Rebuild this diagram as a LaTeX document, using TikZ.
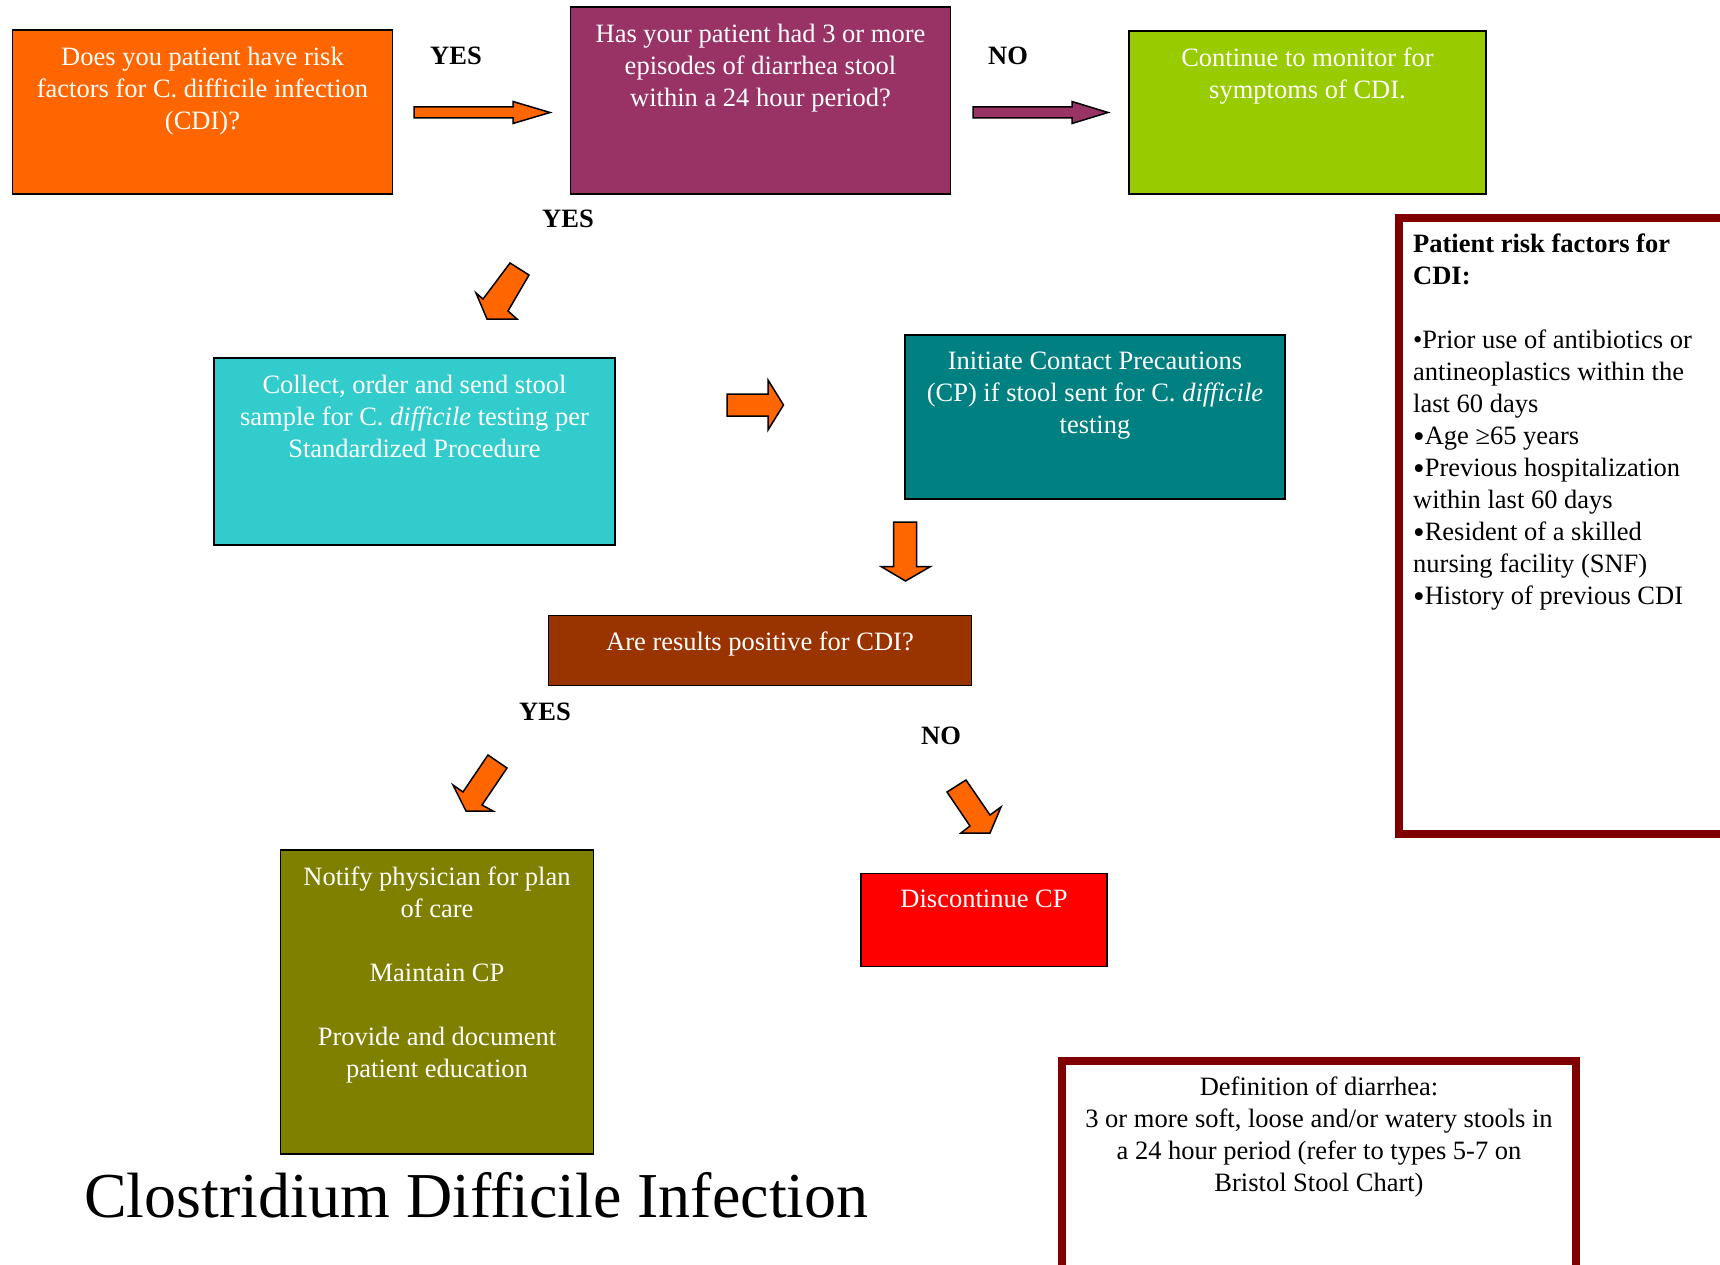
\documentclass[tikz,border=0pt]{standalone}
\usepackage{fontspec}
\setmainfont{Liberation Serif}
\usepackage{xcolor}
\definecolor{cdiorange}{HTML}{FF6600}
\definecolor{cdipurple}{HTML}{993366}
\definecolor{cdigreen}{HTML}{99CC00}
\definecolor{cdicyan}{HTML}{33CCCC}
\definecolor{cditeal}{HTML}{008080}
\definecolor{cdibrown}{HTML}{993300}
\definecolor{cdiolive}{HTML}{808000}
\definecolor{cdired}{HTML}{FF0000}
\definecolor{framered}{HTML}{800000}
\usepackage{tikz}
\usetikzlibrary{positioning}
\newcommand{\fatbullet}{\raisebox{-3pt}{\fontsize{33}{32}\selectfont •}}

\begin{document}
\begin{tikzpicture}[x=1pt, y=-1pt,
			box/.style={draw=black, line width=1.5pt, outer sep=0pt, inner sep=0pt},
			frame/.style={draw=framered, line width=8pt, outer sep=0pt, inner sep=0pt},
			txt/.style={inner sep=0pt, align=center, text=white, font=\fontsize{26.5}{32}\selectfont},
			answer/.style={inner sep=0pt, font=\fontsize{26.5}{32}\selectfont\bfseries},
			barrow/.style={draw=black, line width=1.5pt, line join=miter},
			]
			\useasboundingbox (0,0) rectangle (1720,1265);
			\clip (0,0) rectangle (1720,1265);
			\fill[white] (0,0) rectangle (1720,1265);
			
			\node[box, fill=cdiorange, minimum width=380pt, minimum height=164pt] (riskq) at (202.5,112) {};
			\node[box, fill=cdipurple, minimum width=380pt, minimum height=187pt] (stoolq) at (760.5,100.5) {};
			\node[box, fill=cdigreen, minimum width=357pt, minimum height=163pt] (monitor) at (1307.5,112.5) {};
			\node[box, fill=cdicyan, minimum width=401pt, minimum height=187pt] (collect) at (414.5,451.5) {};
			\node[box, fill=cditeal, minimum width=380pt, minimum height=164pt] (contact) at (1095,417) {};
			\node[box, fill=cdibrown, minimum width=423pt, minimum height=70pt] (result) at (760,650.5) {};
			\node[box, fill=cdiolive, minimum width=313pt, minimum height=304pt] (notify) at (437,1002) {};
			\node[box, fill=cdired, minimum width=246pt, minimum height=93pt] (stopcp) at (984,920) {};
			\node[frame, minimum width=341pt, minimum height=615.5pt] (factors) at (1569,525.75) {};
			\node[frame, minimum width=514pt, minimum height=229pt] (define) at (1319,1175.6) {};
			
			\node[txt, below=16.5pt of riskq.north] (riskq-t) {Does you patient have risk\\factors for C. difficile infection\\(CDI)?};
			\node[txt, below=16.5pt of stoolq.north] (stoolq-t) {Has your patient had 3 or more\\episodes of diarrhea stool\\within a 24 hour period?};
			\node[txt, below=16.5pt of monitor.north] (monitor-t) {Continue to monitor for\\symptoms of CDI.};
			\node[txt, below=16.5pt of collect.north] (collect-t) {Collect, order and send stool\\sample for C. \textit{difficile} testing per\\Standardized Procedure};
			\node[txt, below=16.5pt of contact.north] (contact-t) {Initiate Contact Precautions\\(CP) if stool sent for C. \textit{difficile}\\testing};
			\node[txt, below=16.5pt of result.north] (result-t) {Are results positive for CDI?};
			\node[txt, below=16.5pt of notify.north] (notify-t) {Notify physician for plan\\of care\\[32pt]Maintain CP\\[32pt]Provide and document\\patient education};
			\node[txt, below=16.5pt of stopcp.north] (stopcp-t) {Discontinue CP};
			\node[txt, text=black, align=left, below right=16pt and 14.5pt of factors.north west] (factors-t) {\textbf{Patient risk factors for}\\\textbf{CDI:}\\[32pt]•Prior use of antibiotics or\\antineoplastics within the\\last 60 days\\\fatbullet Age ≥65 years\\\fatbullet Previous hospitalization\\within last 60 days\\\fatbullet Resident of a skilled\\nursing facility (SNF)\\\fatbullet History of previous CDI};
			\node[txt, text=black, below=16pt of define.north] (define-t) {Definition of diarrhea:\\3 or more soft, loose and/or watery stools in\\a 24 hour period (refer to types 5-7 on\\Bristol Stool Chart)};
			
			\node[answer] (yes-a) at (456,56) {YES};
			\node[answer] (no-a) at (1008,56) {NO};
			\node[answer] (yes-b) at (568,219) {YES};
			\node[answer] (yes-c) at (545,712) {YES};
			\node[answer] (no-c) at (941,736) {NO};
			
			\draw[barrow, fill=cdiorange] (414,107) -- (513,107) -- (513,101.5) -- (550,112.5) -- (513,123.5) -- (513,118) -- (414,118) -- cycle;
			\draw[barrow, fill=cdipurple] (973,107) -- (1072,107) -- (1072,101.5) -- (1108,112.5) -- (1072,123.5) -- (1072,118) -- (973,118) -- cycle;
			\draw[barrow, fill=cdiorange] (510,263) -- (529,275) -- (508,311) -- (517,319) -- (487,319) -- (476,293) -- (483,299) -- cycle;
			\draw[barrow, fill=cdiorange] (727,394) -- (768,394) -- (768,380) -- (783.5,405) -- (768,430) -- (768,416) -- (727,416) -- cycle;
			\draw[barrow, fill=cdiorange] (893.5,522) -- (916.5,522) -- (916.5,566.5) -- (930.5,566.5) -- (905.5,581) -- (881,566.5) -- (893.5,566.5) -- cycle;
			\draw[barrow, fill=cdiorange] (488,755) -- (507,768) -- (482,805) -- (493,811) -- (466,811) -- (453,785) -- (463,792) -- cycle;
			\draw[barrow, fill=cdiorange] (947,792) -- (970,826) -- (961,833) -- (990,833) -- (1001,807) -- (990,815) -- (966,780) -- cycle;
			
			\node[inner sep=0pt, anchor=base west, font=\fontsize{64}{70}\selectfont] (title) at (84,1217) {Clostridium Difficile Infection};
			
		\end{tikzpicture}
\end{document}
